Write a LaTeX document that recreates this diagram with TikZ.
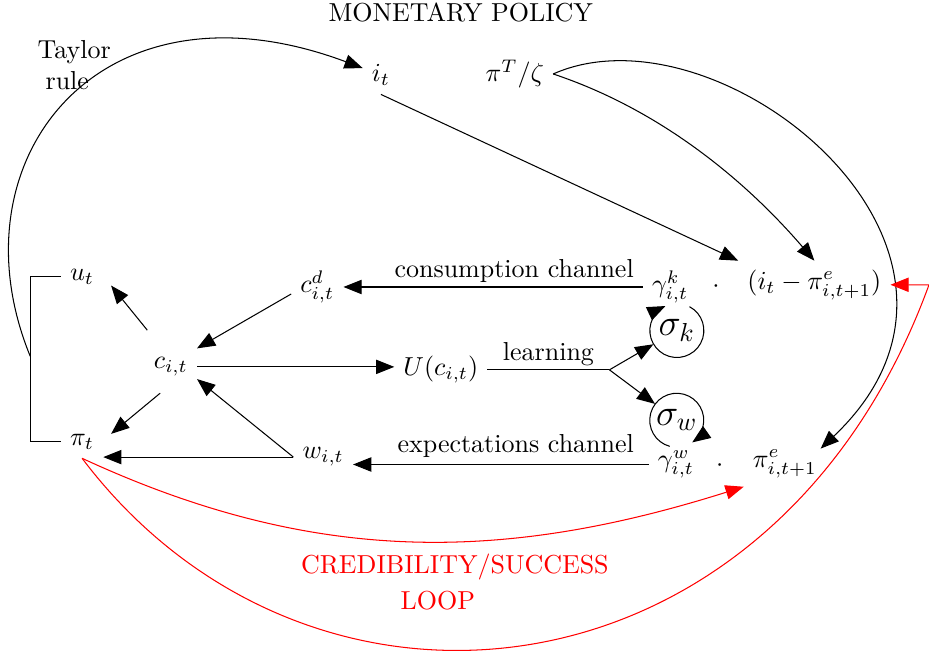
\documentclass[tikz,border=0pt]{standalone}
\usepackage{amsmath,amssymb}
\usepackage{xcolor}
\usepackage{tikz}
\usetikzlibrary{arrows.meta, positioning}
\tikzset{
    arrow/.style={-{Triangle[length=7pt,width=5.5pt]}},
    redarrow/.style={-{Triangle[length=7pt,width=5.5pt]}, red}
}

\begin{document}
\begin{tikzpicture}[
    sig/.style={circle, minimum size=0.72cm, inner sep=0pt, font=\Large},
    loopbox/.style={red, text width=3.7cm, align=center}
]
    \useasboundingbox (0,0) rectangle (12.56,8.88);
    % Policy side
    \node (title) at (6.23,8.71) {MONETARY POLICY};
    \node[text width=0.8cm, align=center] (taylor) at (0.91,8.00) {Taylor rule};
    \node (it) at (5.15,7.87) {$i_t$};
    \node (piT) at (6.96,7.88) {$\pi^T/\zeta$};
    % Households
    \node (ut) at (1.11,5.14) {$u_t$};
    \node (cd) at (4.29,5.00) {$c^d_{i,t}$};
    \node (c) at (2.31,3.92) {$c_{i,t}$};
    \node (U) at (5.96,3.88) {$U(c_{i,t})$};
    \node (pit) at (1.11,2.91) {$\pi_t$};
    \node (w) at (4.37,2.70) {$w_{i,t}$};
    % Channels
    \node (gk) at (9.06,5.00) {$\gamma^k_{i,t}$};
    \node (dotk) at (9.68,5.00) {$\cdot$};
    \node (gap) at (11.01,5.03) {$(i_t-\pi^e_{i,t+1})$};
    \node (gw) at (9.14,2.60) {$\gamma^w_{i,t}$};
    \node (dotw) at (9.73,2.58) {$\cdot$};
    \node (pe) at (10.61,2.61) {$\pi^e_{i,t+1}$};
    \node[sig] (sk) at (9.15,4.41) {$\sigma_k$};
    \node[sig] (sw) at (9.15,3.20) {$\sigma_w$};
    \node[loopbox] (loop) at (5.92,1.01) {CREDIBILITY/SUCCESS\\[2pt] LOOP};
    \coordinate (brk) at (0.41,4.06);
    \coordinate (rc) at (12.56,5.03);

    % Taylor rule
    \draw (ut.west) -| (brk) |- (pit.west);
    \draw[arrow] (brk) .. controls (-0.68,6.72) and (1.35,9.29) .. (it.160);
    \draw[arrow] (it.south) -- (gap.north west);
    \draw[arrow] (piT.east) .. controls (8.92,7.40) and (10.07,6.45) .. (gap.north);
    \draw[arrow] (piT.east) .. controls (9.73,8.88) and (13.93,5.50) .. ([shift={(-2pt,-3pt)}]pe.north east);

    % Household block
    \draw[arrow] ([shift={(1pt,7pt)}]c.north west) -- ([shift={(3pt,3pt)}]ut.south east);
    \draw[arrow] (cd.195) -- (c.north east);
    \draw[arrow] ([yshift=-3pt]c.240) -- ([xshift=3pt]pit.20);
    \draw[arrow] (c.east) -- (c.east -| U.west);
    \draw[arrow] (w.west) -- (c.335);
    \draw[arrow] (w.west) -- (w.west -| pit.east);

    % Channels and learning
    \draw[arrow] (gk.west) -- node[above, yshift=-2pt, pos=0.43] (lblc) {consumption channel} (gk.west -| cd.east);
    \draw[arrow] (gw.west) -- node[above, yshift=-1pt, pos=0.45] (lble) {expectations channel} (gw.west -| w.east);
    \draw (U.east) -- node[above, yshift=-2pt] (lbll) {learning} ++(1.65,0) coordinate (br);
    \draw[arrow] (br) -- (sk);
    \draw[arrow] (br) -- (sw);
    \draw[arrow] (sk.62) arc[start angle=62, end angle=-245, radius=0.365cm];
    \draw[arrow] (sw.-105) arc[start angle=-105, end angle=-415, radius=0.365cm];

    % Credibility loop
    \draw[redarrow] (pit.south) .. controls (4.23,1.24) and (6.79,1.27) .. (pe.south west);
    \draw[redarrow] (pit.south) .. controls (4.19,-1.39) and (10.46,-0.72) .. (rc) -- (gap.east);
\end{tikzpicture}
\end{document}
